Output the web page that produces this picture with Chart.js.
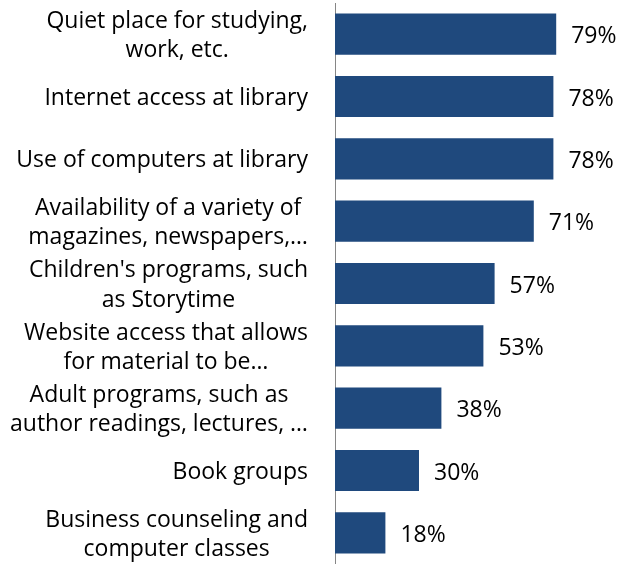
<!DOCTYPE html>
<html>
<head>
<meta charset="utf-8">
<script src="https://cdn.jsdelivr.net/npm/chart.js@4"></script>
<style>
  html, body { margin: 0; padding: 0; background: #fff; }
  #libChart { display: block; }
</style>
</head>
<body>
<canvas id="libChart" width="619" height="564"></canvas>
<script>
  // services and share of respondents who use them
  const services = [
    ["Quiet place for studying,", "work, etc."],
    ["Internet access at library"],
    ["Use of computers at library"],
    ["Availability of a variety of", "magazines, newspapers,…"],
    ["Children's programs, such", "as Storytime"],
    ["Website access that allows", "for material to be…"],
    ["Adult programs, such as", "author readings, lectures, …"],
    ["Book groups"],
    ["Business counseling and", "computer classes"],
  ];
  const percents = [79, 78, 78, 71, 57, 53, 38, 30, 18];

  const FONT = '23px "Open Sans", Lato, sans-serif';
  const BASE_OFF = 9; // alphabetic baseline below the bar centre

  // category text drawn as centred blocks, right-aligned against the axis
  const sideLabels = {
    id: "sideLabels",
    afterDraw(chart) {
      const ctx = chart.ctx;
      const y = chart.scales.y;
      const right = 308;
      const lineH = 29.5;
      ctx.save();
      ctx.font = FONT;
      ctx.fillStyle = "#000";
      ctx.textAlign = "center";
      ctx.textBaseline = "alphabetic";
      services.forEach((lines, i) => {
        const w = Math.max(...lines.map((l) => ctx.measureText(l).width));
        const cx = right - w / 2;
        const cy = y.getPixelForValue(i);
        const top = cy - ((lines.length - 1) * lineH) / 2;
        lines.forEach((l, k) => ctx.fillText(l, cx, top + k * lineH + BASE_OFF - 0.5));
      });
      ctx.restore();
    },
  };

  // percentage printed just past the end of each bar
  const valueLabels = {
    id: "valueLabels",
    afterDatasetsDraw(chart) {
      const ctx = chart.ctx;
      const meta = chart.getDatasetMeta(0);
      ctx.save();
      ctx.font = FONT;
      ctx.fillStyle = "#000";
      ctx.textAlign = "left";
      ctx.textBaseline = "alphabetic";
      meta.data.forEach((bar, i) => {
        ctx.fillText(percents[i] + "%", bar.x + 15, bar.y + BASE_OFF);
      });
      ctx.restore();
    },
  };

  new Chart(document.getElementById("libChart"), {
    type: "bar",
    data: {
      labels: services.map((s) => s.join(" ")),
      datasets: [
        {
          data: percents,
          backgroundColor: "#1F497D",
          borderWidth: 0,
          barPercentage: 0.66,
          categoryPercentage: 1,
        },
      ],
    },
    options: {
      indexAxis: "y",
      responsive: false,
      animation: false,
      layout: { padding: { top: 3, right: 4, bottom: 0, left: 0 } },
      plugins: {
        legend: { display: false },
        tooltip: { enabled: false },
      },
      scales: {
        x: { min: 0, max: 100, display: false },
        y: {
          grid: { display: false, drawTicks: false },
          border: { display: true, color: "#868686", width: 1 },
          ticks: { display: false },
          afterFit(scale) {
            scale.width = 335;
          },
        },
      },
    },
    plugins: [sideLabels, valueLabels],
  });
</script>
</body>
</html>
